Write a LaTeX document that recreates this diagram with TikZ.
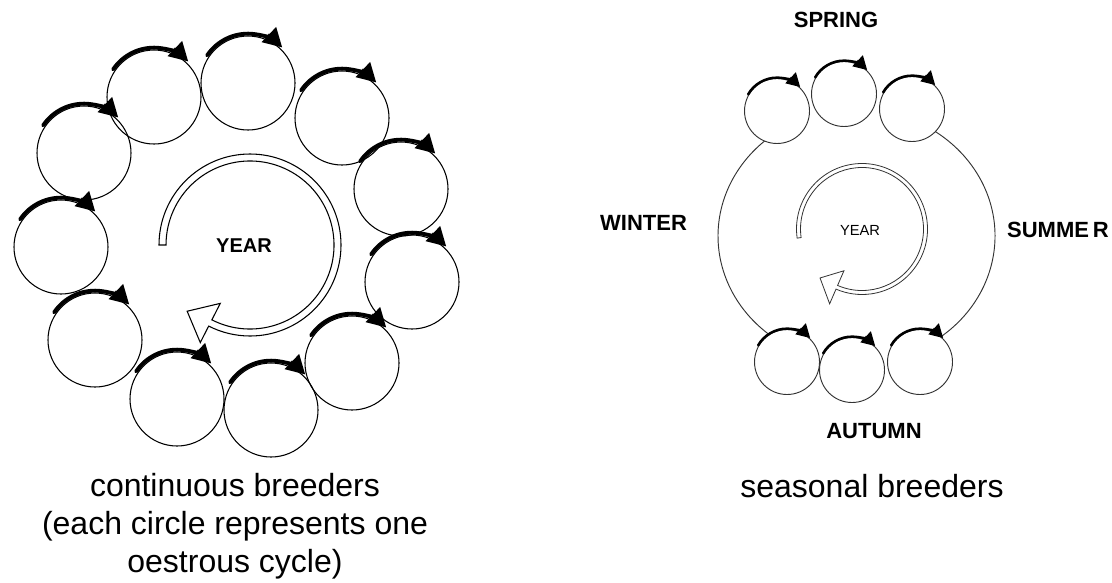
\documentclass[tikz,border=0pt]{standalone}
\usepackage{fontspec}
\setmainfont{Liberation Sans}
\usetikzlibrary{arrows.meta,calc}
\begin{document}
\begin{tikzpicture}[x=0.75pt,y=0.75pt,
 bigcyc/.style={circle,draw=black,line width=0.8pt,minimum size=70.5pt,inner sep=0pt,outer sep=0pt},
 smallcyc/.style={circle,draw=black!80,fill=white,line width=0.7pt,minimum size=48.75pt,inner sep=0pt,outer sep=0pt},
 bigtick/.style={line width=2.9pt,line cap=round,-{Triangle[length=14pt,width=15pt]}},
 smalltick/.style={line width=1.9pt,line cap=round,-{Triangle[length=10pt,width=11pt]}},
 ring/.style={draw=black!80,line width=0.7pt},
 season/.style={font=\bfseries\fontsize{16.5}{18}\selectfont,anchor=base,inner sep=0pt},
 captxt/.style={font=\fontsize{24}{28}\selectfont,anchor=base,inner sep=0pt},
 yearbody/.style={draw=black,line width=0.8pt,fill=white,line join=miter},
 yearbodys/.style={draw=black!80,line width=0.6pt,fill=white,line join=miter}
]
\useasboundingbox (0,0) rectangle (1112,-582);
\fill[white] (0,0) rectangle (1112,-582);

% ---------- left: continuous breeders ----------
\foreach \n/\x/\y in {1/154/97, 2/248/83, 3/342/118, 4/401/189, 5/412/282, 6/352/363,
                      7/271/410, 8/177/399, 9/95/340, 10/61/247, 11/84/153}
  \node[bigcyc] (L\n) at (\x,-\y) {};
\foreach \n in {1,...,11}
  \draw[bigtick] ([shift={(146:37pt)}]L\n.center) arc[start angle=146,end angle=46,radius=37pt];

\coordinate (CL) at (250,-245);
\draw[yearbody] ([shift={(180:91)}]CL) arc[start angle=180,end angle=-117,radius=91]
  -- ([shift={(-117:109.5)}]CL) -- ([shift={(-133.5:91.3)}]CL)
  -- ([shift={(-117:65.5)}]CL) -- ([shift={(-117:84)}]CL)
  arc[start angle=-117,end angle=180,radius=84] -- cycle;
\node[anchor=base,inner sep=0pt,font=\bfseries\fontsize{15}{17}\selectfont] (yearL) at (244,-252) {YEAR};

\node[captxt] (capL1) at (235,-496) {continuous breeders};
\node[captxt] (capL2) at (235,-534) {(each circle represents one};
\node[captxt] (capL3) at (235,-572) {oestrous cycle)};

% ---------- right: seasonal breeders ----------
\coordinate (RC) at (856.5,-236);
\draw[ring] ([shift={(125:138.5 and 127)}]RC) arc[start angle=125,end angle=235,x radius=138.5,y radius=127];
\draw[ring] ([shift={(-60:138.5 and 127)}]RC) arc[start angle=-60,end angle=60,x radius=138.5,y radius=127];

\foreach \n/\x/\y in {A/777/111, B/844/94, C/912/109, D/787/362, E/852/370, F/920/362}
  \node[smallcyc] (S\n) at (\x,-\y) {};
\foreach \n in {A,B,C,D,E,F}
  \draw[smalltick] ([shift={(150:25pt)}]S\n.center) arc[start angle=150,end angle=46,radius=25pt];

\coordinate (CR) at (862,-229);
\draw[yearbodys] ([shift={(188:65.5)}]CR) arc[start angle=188,end angle=-113.4,radius=65.5]
  -- ([shift={(-113.4:81.5)}]CR) -- ([shift={(-130.6:64.5)}]CR)
  -- ([shift={(-113.4:45.5)}]CR) -- ([shift={(-113.4:61.5)}]CR)
  arc[start angle=-113.4,end angle=188,radius=61.5] -- cycle;
\node[anchor=base,inner sep=0pt,font=\fontsize{11}{13}\selectfont] (yearR) at (860,-235) {YEAR};

\node[season] (spring) at (836,-27) {SPRING};
\node[season] (winter) at (643.5,-230) {WINTER};
\node[season] (summer) at (1058,-237) {SUMME\kern3pt R};
\node[season] (autumn) at (874,-438) {AUTUMN};

\node[captxt] (capR) at (872,-497) {seasonal breeders};
\end{tikzpicture}
\end{document}
